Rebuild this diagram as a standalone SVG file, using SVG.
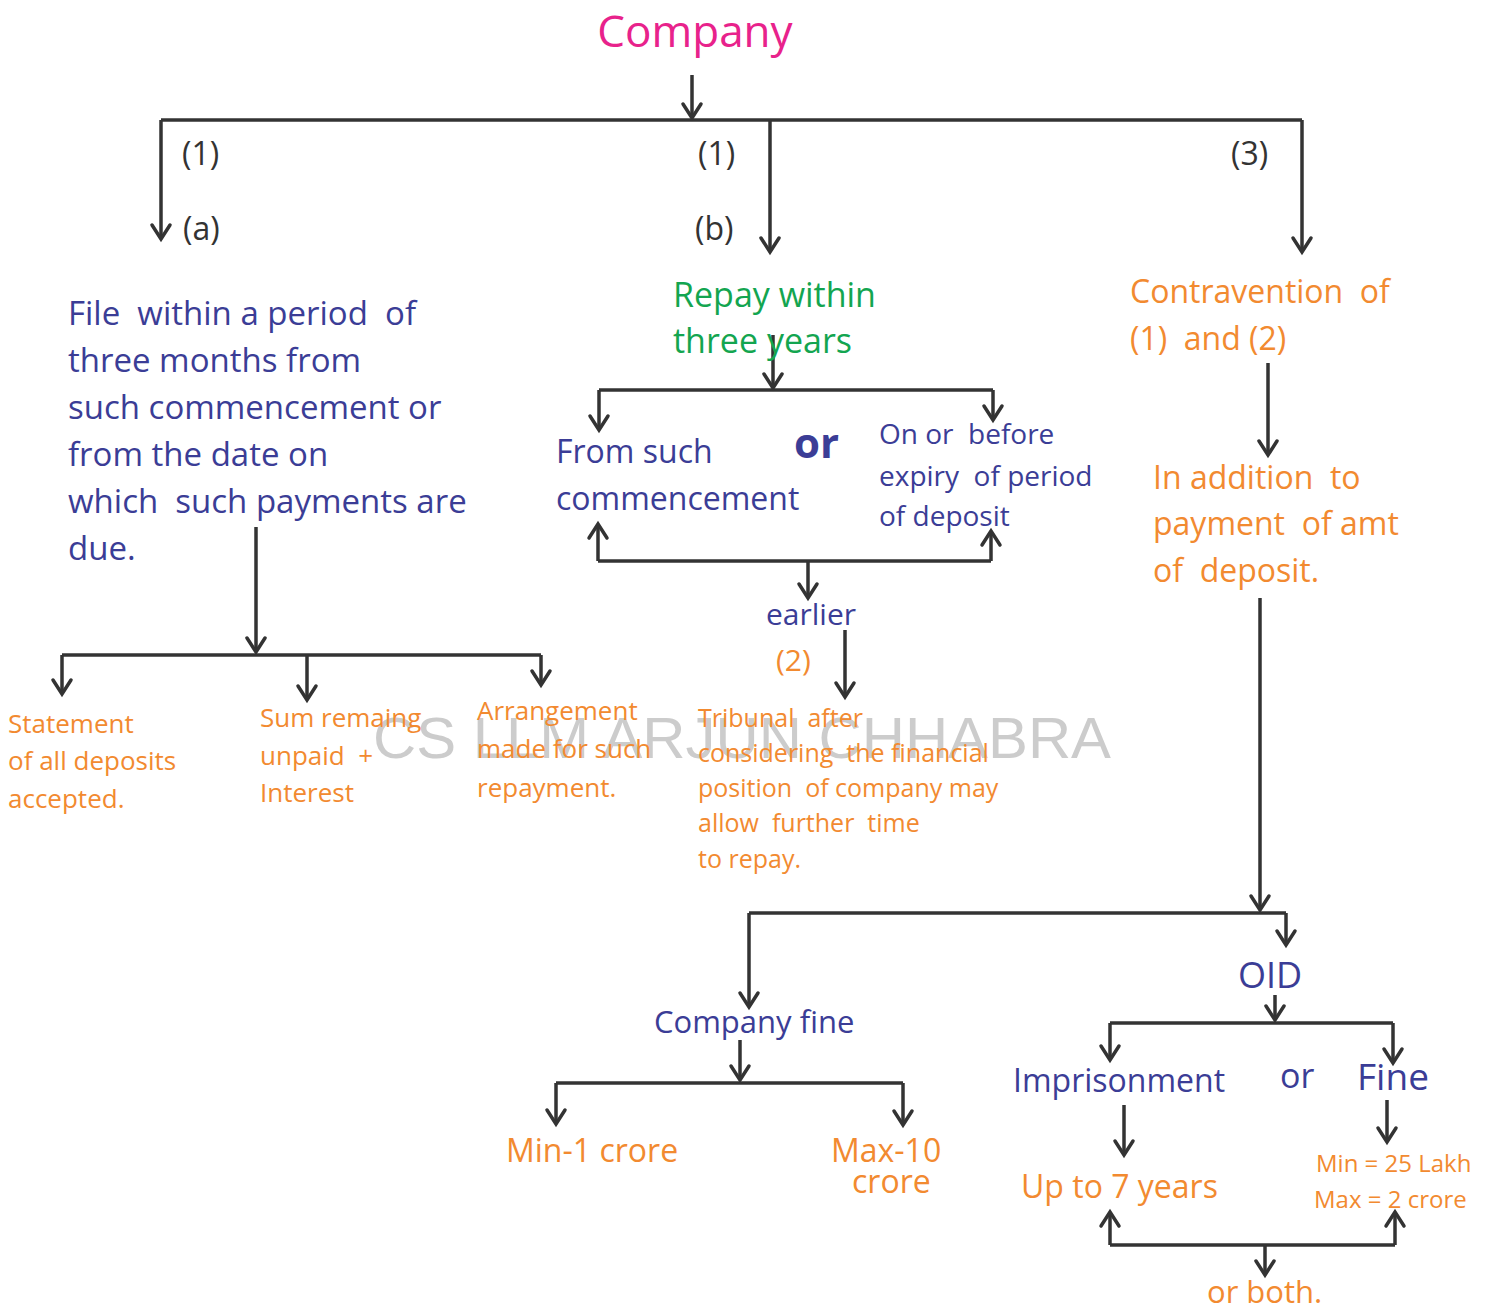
<svg xmlns="http://www.w3.org/2000/svg" width="1491" height="1312" viewBox="0 0 1491 1312">
<defs>
<marker id="ah" markerUnits="userSpaceOnUse" viewBox="-18 -12 20 24" markerWidth="20" markerHeight="24" refX="0" refY="0" orient="auto" overflow="visible">
<path d="M -14 -9 L 0 0 L -14 9" fill="none" stroke="#333" stroke-width="3.5" stroke-linecap="round" stroke-linejoin="miter"/>
</marker>
<style>
text{font-family:"Open Sans","Noto Sans",sans-serif;white-space:pre;}
.nv{fill:#3b3d96;}
.or{fill:#f28a30;}
.gr{fill:#13a550;}
.bk{fill:#333;}
.ln{fill:none;stroke:#333;stroke-width:3.5;}
.ar{fill:none;stroke:#333;stroke-width:3.5;marker-end:url(#ah);}
.wm{fill:#9a9a9a;opacity:0.5;font-family:"Liberation Sans",sans-serif;}
</style>
</defs>
<rect width="1491" height="1312" fill="#fff"/>
<text class="wm" x="373" y="758" font-size="58" textLength="738" lengthAdjust="spacingAndGlyphs">CS LLM ARJUN CHHABRA</text>
<g id="connectors">
<path class="ar" d="M692 75 V118"/>
<path class="ln" d="M161 120 H1302"/>
<path class="ar" d="M161 120 V239"/>
<path class="ar" d="M770 120 V252"/>
<path class="ar" d="M1302 120 V252"/>
<path class="ar" d="M256 527 V652"/>
<path class="ln" d="M62 655 H541"/>
<path class="ar" d="M62 655 V694"/>
<path class="ar" d="M307 655 V700"/>
<path class="ar" d="M541 655 V685"/>
<path class="ar" d="M773 335 V388"/>
<path class="ln" d="M599 390 H993"/>
<path class="ar" d="M599 390 V430"/>
<path class="ar" d="M993 390 V420"/>
<path class="ln" d="M598 561 H991"/>
<path class="ar" d="M598 561 V524"/>
<path class="ar" d="M991 561 V531"/>
<path class="ar" d="M808 561 V598"/>
<path class="ar" d="M845 630 V697"/>
<path class="ar" d="M1268 363 V455"/>
<path class="ar" d="M1260 598 V910"/>
<path class="ln" d="M749 913 H1286"/>
<path class="ar" d="M749 913 V1007"/>
<path class="ar" d="M1286 913 V945"/>
<path class="ar" d="M1275 995 V1020"/>
<path class="ln" d="M1110 1023 H1393"/>
<path class="ar" d="M1110 1023 V1060"/>
<path class="ar" d="M1393 1023 V1063"/>
<path class="ar" d="M1124 1105 V1155"/>
<path class="ar" d="M1387 1100 V1142"/>
<path class="ln" d="M1110 1245 H1395"/>
<path class="ar" d="M1110 1245 V1212"/>
<path class="ar" d="M1395 1245 V1212"/>
<path class="ar" d="M1265 1245 V1275"/>
<path class="ar" d="M740 1040 V1080"/>
<path class="ln" d="M556 1083 H903"/>
<path class="ar" d="M556 1083 V1124"/>
<path class="ar" d="M903 1083 V1125"/>
</g>
<g id="company"><text x="695" y="47" font-size="44" text-anchor="middle" fill="#e8228b">Company</text></g>
<g id="labels">
<text class="bk" x="182" y="165" font-size="32">(1)</text>
<text class="bk" x="698" y="165" font-size="32">(1)</text>
<text class="bk" x="1231" y="165" font-size="32">(3)</text>
<text class="bk" x="183" y="240" font-size="32">(a)</text>
<text class="bk" x="695" y="240" font-size="32">(b)</text>
</g>
<g id="file" font-size="33">
<text class="nv" x="68" y="325">File  within a period  of</text>
<text class="nv" x="68" y="372">three months from</text>
<text class="nv" x="68" y="419">such commencement or</text>
<text class="nv" x="68" y="466">from the date on</text>
<text class="nv" x="68" y="513">which  such payments are</text>
<text class="nv" x="68" y="560">due.</text>
</g>
<g id="statement" font-size="26">
<text class="or" x="8" y="733">Statement</text>
<text class="or" x="8" y="770">of all deposits</text>
<text class="or" x="8" y="808">accepted.</text>
</g>
<g id="sum" font-size="26">
<text class="or" x="260" y="727">Sum remaing</text>
<text class="or" x="260" y="765">unpaid  +</text>
<text class="or" x="260" y="802">Interest</text>
</g>
<g id="arrangement" font-size="26">
<text class="or" x="477" y="720">Arrangement</text>
<text class="or" x="477" y="758">made for such</text>
<text class="or" x="477" y="797">repayment.</text>
</g>
<g id="repay" font-size="34">
<text class="gr" x="673" y="307">Repay within</text>
<text class="gr" x="673" y="353">three years</text>
</g>
<g id="fromsuch" font-size="32">
<text class="nv" x="556" y="463">From such</text>
<text class="nv" x="556" y="510">commencement</text>
</g>
<g id="or1"><text class="nv" x="794" y="458" font-size="42" font-weight="bold">or</text></g>
<g id="onorbefore" font-size="28">
<text class="nv" x="879" y="444">On or  before</text>
<text class="nv" x="879" y="486">expiry  of period</text>
<text class="nv" x="879" y="526">of deposit</text>
</g>
<g id="earlier"><text class="nv" x="766" y="625" font-size="30">earlier</text></g>
<g id="two"><text class="or" x="776" y="671" font-size="30">(2)</text></g>
<g id="tribunal" font-size="25">
<text class="or" x="698" y="727">Tribunal  after</text>
<text class="or" x="698" y="762">considering  the financial</text>
<text class="or" x="698" y="797">position  of company may</text>
<text class="or" x="698" y="832">allow  further  time</text>
<text class="or" x="698" y="868">to repay.</text>
</g>
<g id="contravention" font-size="32">
<text class="or" x="1130" y="303">Contravention  of</text>
<text class="or" x="1130" y="350">(1)  and (2)</text>
</g>
<g id="inaddition" font-size="32">
<text class="or" x="1153" y="489">In addition  to</text>
<text class="or" x="1153" y="535">payment  of amt</text>
<text class="or" x="1153" y="582">of  deposit.</text>
</g>
<g id="oid"><text class="nv" x="1238" y="988" font-size="36">OID</text></g>
<g id="companyfine"><text class="nv" x="654" y="1033" font-size="31">Company fine</text></g>
<g id="imprisonment"><text class="nv" x="1013" y="1092" font-size="32">Imprisonment</text></g>
<g id="or2"><text class="nv" x="1280" y="1088" font-size="34">or</text></g>
<g id="fine"><text class="nv" x="1357" y="1090" font-size="37">Fine</text></g>
<g id="upto"><text class="or" x="1021" y="1198" font-size="32">Up to 7 years</text></g>
<g id="minmax" font-size="24">
<text class="or" x="1316" y="1172">Min = 25 Lakh</text>
<text class="or" x="1314" y="1208">Max = 2 crore</text>
</g>
<g id="orboth"><text class="or" x="1207" y="1303" font-size="31">or both.</text></g>
<g id="min1"><text class="or" x="506" y="1162" font-size="32">Min-1 crore</text></g>
<g id="max10" font-size="32">
<text class="or" x="831" y="1162">Max-10</text>
<text class="or" x="852" y="1193">crore</text>
</g>
</svg>
